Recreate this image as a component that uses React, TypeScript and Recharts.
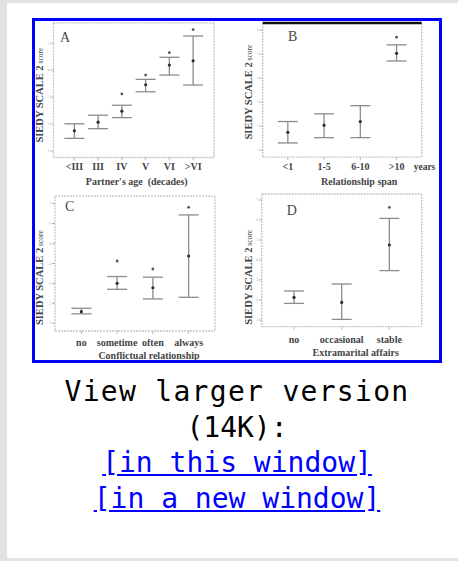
import {
  ComposedChart,
  Line,
  ErrorBar,
  XAxis,
  YAxis,
  CartesianGrid,
  ReferenceLine,
  Label,
} from "recharts"

// A: partner's age
const ageCats = ["<III", "III", "IV", "V", "VI", ">VI"]
const ageMean = [1.75, 2.07, 2.48, 3.46, 4.19, 4.35]
const ageLow = [1.47, 1.83, 2.24, 3.2, 3.82, 3.45]
const ageHigh = [2.01, 2.33, 2.7, 3.66, 4.48, 5.27]
const ageStar = [null, null, 3.12, 3.82, 4.65, 5.51]
const ageTicks = [1, 2, 3, 4, 5]

// B: relationship span
const spanCats = ["<1", "1-5", "6-10", ">10"]
const spanMean = [1.74, 2.04, 2.19, 5.03]
const spanLow = [1.3, 1.52, 1.52, 4.71]
const spanHigh = [2.19, 2.51, 2.85, 5.38]
const spanStar = [null, null, null, 5.7]
const spanTicks = [1, 2, 3, 4, 5, 6]

// C: conflictual relationship
const conflictCats = ["no", "sometime", "often", "always"]
const conflictMean = [1.58, 3.0, 2.78, 4.37]
const conflictLow = [1.47, 2.7, 2.22, 2.3]
const conflictHigh = [1.75, 3.34, 3.31, 6.43]
const conflictStar = [null, 4.12, 3.72, 6.81]
const conflictTicks = [1, 2, 3, 4, 5, 6, 7]

// D: extramarital affairs
const affairCats = ["no", "occasional", "stable"]
const affairMean = [2.13, 1.88, 4.75]
const affairLow = [1.83, 1.03, 3.47]
const affairHigh = [2.45, 2.8, 6.08]
const affairStar = [null, null, 6.63]
const affairTicks = [1, 2, 3, 4, 5, 6, 7]

type Row = { cat: string; mean: number; err: [number, number]; star: number | null }

function buildRows(
  cats: string[],
  mean: number[],
  low: number[],
  high: number[],
  star: (number | null)[]
): Row[] {
  return cats.map((cat, i) => ({
    cat,
    mean: mean[i],
    err: [mean[i] - low[i], high[i] - mean[i]],
    star: star[i],
  }))
}

type Panel = {
  letter: string
  title: string
  rows: Row[]
  ticks: number[]
  domain: [number, number]
  box: { x: number; y: number; w: number; h: number }
  frame: { x0: number; y0: number; x1: number; y1: number }
  pad: number
  tickGap: number
  titleDy: number
  titleShift: number
  labelGap: number
  labelShift: number
  letterAt: [number, number]
  extra?: string
  topRule?: boolean
}

const INNER_X = 35
const INNER_Y = 21
const Y_W = 8
const X_H = 26
const SERIF = '"Liberation Serif", "Times New Roman", serif'
const AXIS_TEXT = "#444"

const panels: Panel[] = [
  {
    letter: "A",
    title: "Partner's age  (decades)",
    rows: buildRows(ageCats, ageMean, ageLow, ageHigh, ageStar),
    ticks: ageTicks,
    domain: [0.76, 5.76],
    box: { x: 35, y: 21, w: 202, h: 171 },
    frame: { x0: 53.5, y0: 22.8, x1: 214, y1: 157.5 },
    pad: 9,
    tickGap: 2.5,
    titleDy: 27.7,
    titleShift: 3,
    labelGap: 10,
    labelShift: 5,
    letterAt: [6.5, 19],
  },
  {
    letter: "B",
    title: "Relationship span",
    rows: buildRows(spanCats, spanMean, spanLow, spanHigh, spanStar),
    ticks: spanTicks,
    domain: [0.71, 6.29],
    box: { x: 237, y: 21, w: 202, h: 171 },
    frame: { x0: 262.7, y0: 23, x1: 421.7, y1: 157.1 },
    pad: 7,
    tickGap: 2.8,
    titleDy: 28,
    titleShift: 17,
    labelGap: 10.7,
    labelShift: 2,
    letterAt: [25.3, 17.5],
    extra: "years",
    topRule: true,
  },
  {
    letter: "C",
    title: "Conflictual relationship",
    rows: buildRows(conflictCats, conflictMean, conflictLow, conflictHigh, conflictStar),
    ticks: conflictTicks,
    domain: [0.61, 7.37],
    box: { x: 35, y: 192, w: 202, h: 168 },
    frame: { x0: 55, y0: 196.2, x1: 215, y1: 331 },
    pad: 8.5,
    tickGap: 5.2,
    titleDy: 27.5,
    titleShift: 14,
    labelGap: 12,
    labelShift: 14,
    letterAt: [10, 14.5],
  },
  {
    letter: "D",
    title: "Extramarital affairs",
    rows: buildRows(affairCats, affairMean, affairLow, affairHigh, affairStar),
    ticks: affairTicks,
    domain: [0.665, 7.3],
    box: { x: 237, y: 192, w: 202, h: 168 },
    frame: { x0: 261.7, y0: 194, x1: 421.7, y1: 326.7 },
    pad: 8.5,
    tickGap: 6.2,
    titleDy: 29.5,
    titleShift: 14,
    labelGap: 9.7,
    labelShift: 17,
    letterAt: [25, 21],
  },
]

function MeanDot(props: any) {
  const { cx, cy, index, value } = props
  if (cx == null || cy == null || value == null) return <g key={`m${index}`} />
  return <circle key={`m${index}`} cx={cx} cy={cy} r={1.6} fill="#2e2e2e" />
}

function StarDot(props: any) {
  const { cx, cy, index, value } = props
  if (cx == null || cy == null || value == null) return <g key={`s${index}`} />
  return <circle key={`s${index}`} cx={cx} cy={cy} r={1.4} fill="#555" />
}

function PanelChart({ p }: { p: Panel }) {
  const { box, frame } = p
  const margin = {
    top: frame.y0 - box.y,
    left: frame.x0 - box.x - Y_W,
    right: box.x + box.w - frame.x1,
    bottom: box.y + box.h - frame.y1 - X_H,
  }
  const plotLeft = frame.x0 - box.x
  const plotTop = frame.y0 - box.y
  const plotRight = frame.x1 - box.x
  const plotBottom = frame.y1 - box.y
  const labelX = plotLeft - p.labelGap
  const labelY = (plotTop + plotBottom) / 2 + p.labelShift

  return (
    <div
      style={{
        position: "absolute",
        left: box.x - INNER_X,
        top: box.y - INNER_Y,
      }}
    >
      <ComposedChart width={box.w} height={box.h} data={p.rows} margin={margin}>
        <CartesianGrid
          stroke="#c4c4c4"
          strokeWidth={1.3}
          strokeDasharray="2 1"
          horizontalCoordinatesGenerator={({ offset }: any) => [
            offset.top,
            offset.top + offset.height,
          ]}
          verticalCoordinatesGenerator={({ offset }: any) => [
            offset.left,
            offset.left + offset.width,
          ]}
        />
        {p.topRule && (
          <ReferenceLine y={p.domain[1]} stroke="#111" strokeWidth={2.6} />
        )}
        <XAxis
          dataKey="cat"
          scale="band"
          height={X_H}
          padding={{ left: p.pad, right: p.pad }}
          axisLine={false}
          tickLine={{ stroke: "#b8b8b8" }}
          tickSize={3}
          tickMargin={p.tickGap}
          interval={0}
          tick={{ fontSize: 10, fontFamily: SERIF, fontWeight: 700, fill: AXIS_TEXT }}
        >
          <Label
            value={p.title}
            content={() => (
              <g>
                <text
                  x={(plotLeft + plotRight) / 2 + p.titleShift}
                  y={plotBottom + p.titleDy}
                  textAnchor="middle"
                  fontFamily={SERIF}
                  fontWeight={700}
                  fontSize={10}
                  fill={AXIS_TEXT}
                  style={{ whiteSpace: "pre" }}
                >
                  {p.title}
                </text>
                {p.extra && (
                  <text
                    x={plotRight - 8}
                    y={plotBottom + 13}
                    fontFamily={SERIF}
                    fontWeight={700}
                    fontSize={9.5}
                    fill={AXIS_TEXT}
                  >
                    {p.extra}
                  </text>
                )}
              </g>
            )}
          />
        </XAxis>
        <YAxis
          type="number"
          width={Y_W}
          domain={p.domain}
          ticks={p.ticks}
          axisLine={false}
          tickLine={{ stroke: "#b0b0b0" }}
          tickSize={3}
          tickMargin={1}
          tick={{ fontSize: 3.5, fill: "#aaa", fontFamily: SERIF }}
        >
          <Label
            value="SIEDY SCALE 2 score"
            content={() => (
              <g>
                <text
                  x={labelX}
                  y={labelY}
                  transform={`rotate(-90 ${labelX} ${labelY})`}
                  textAnchor="middle"
                  fontFamily={SERIF}
                  fill={AXIS_TEXT}
                >
                  <tspan fontWeight={700} fontSize={10.5}>
                    SIEDY SCALE 2
                  </tspan>
                  <tspan fontSize={7.5}> score</tspan>
                </text>
                <text
                  x={plotLeft + p.letterAt[0]}
                  y={plotTop + p.letterAt[1]}
                  fontFamily={SERIF}
                  fontSize={14}
                  fill="#4a4a4a"
                >
                  {p.letter}
                </text>
              </g>
            )}
          />
        </YAxis>
        <Line
          dataKey="mean"
          stroke="none"
          dot={MeanDot}
          activeDot={false}
          isAnimationActive={false}
        >
          <ErrorBar
            dataKey="err"
            direction="y"
            width={10}
            stroke="#8c8c8c"
            strokeWidth={1.3}
            isAnimationActive={false}
          />
        </Line>
        <Line
          dataKey="star"
          stroke="none"
          dot={StarDot}
          activeDot={false}
          connectNulls={false}
          isAnimationActive={false}
        />
      </ComposedChart>
    </div>
  )
}

export default function App() {
  return (
    <div style={{ position: "relative", width: 458, height: 561, background: "#e2e2e2", overflow: "hidden" }}>
      <style>{"body{margin:0}"}</style>
      <div
        style={{
          position: "absolute",
          left: 7,
          top: 3,
          width: 451,
          height: 555,
          background: "#fff",
        }}
      />
      <div
        style={{
          position: "absolute",
          left: 32,
          top: 18,
          width: 404,
          height: 339,
          border: "3px solid #0000ff",
          background: "#fff",
          overflow: "hidden",
        }}
      >
        {panels.map((p) => (
          <PanelChart key={p.letter} p={p} />
        ))}
      </div>
      <div
        style={{
          position: "absolute",
          left: 7,
          top: 374,
          width: 460,
          textAlign: "center",
          fontFamily: '"DejaVu Sans Mono", monospace',
          fontSize: 28,
          lineHeight: "35.5px",
          color: "#000",
        }}
      >
        <div style={{ letterSpacing: 1.3 }}>View larger version</div>
        <div>(14K):</div>
        <div>
          <a href="#" style={{ color: "#0000ff" }}>[in this window]</a>
        </div>
        <div>
          <a href="#" style={{ color: "#0000ff" }}>[in a new window]</a>
        </div>
      </div>
    </div>
  )
}
